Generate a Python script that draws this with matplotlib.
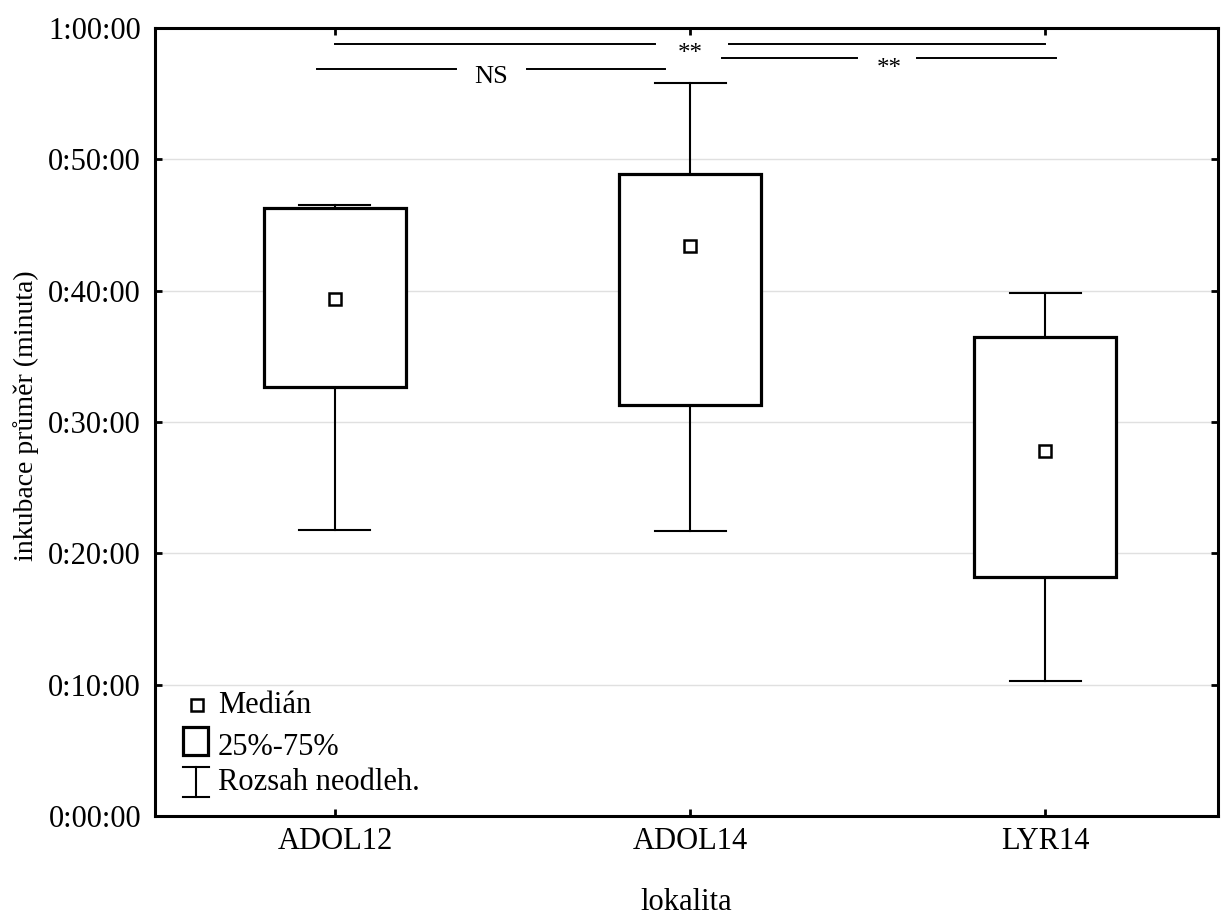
import matplotlib.pyplot as plt
from matplotlib.ticker import FuncFormatter, MultipleLocator
from matplotlib.patches import Rectangle

# Inkubace (minuty) podle lokality
lokality = ["ADOL12", "ADOL14", "LYR14"]
whisk_lo = [21.8, 21.7, 10.3]
q1 = [32.7, 31.3, 18.2]
median = [39.4, 43.4, 27.8]
q3 = [46.3, 48.9, 36.5]
whisk_hi = [46.5, 55.8, 39.8]

# Porovnani lokalit: (useky car), y cary, text, x textu, y textu, velikost
srovnani = [
    ((0.0, 0.90), (1.11, 2.0), 58.8, "**", 1.0, 57.6, 18),
    ((-0.05, 0.34), (0.54, 0.93), 56.9, "NS", 0.44, 55.8, 19),
    ((1.09, 1.47), (1.64, 2.03), 57.7, "**", 1.56, 56.4, 18),
]

plt.rcParams.update({'font.family': 'Liberation Serif', 'font.size': 22})
fig = plt.figure(figsize=(12.23, 9.18), dpi=100)
ax = fig.add_axes([0.1267, 0.1111, 0.8692, 0.8584])

sirka = 0.4
cap = 0.2
for i in range(len(lokality)):
    ax.plot([i, i], [whisk_lo[i], q1[i]], color="black", lw=1.5, zorder=3)
    ax.plot([i, i], [q3[i], whisk_hi[i]], color="black", lw=1.5, zorder=3)
    ax.plot([i - cap / 2, i + cap / 2], [whisk_lo[i]] * 2, color="black", lw=1.5, zorder=3)
    ax.plot([i - cap / 2, i + cap / 2], [whisk_hi[i]] * 2, color="black", lw=1.5, zorder=3)
    ax.add_patch(Rectangle((i - sirka / 2, q1[i]), sirka, q3[i] - q1[i],
                           facecolor="white", edgecolor="black", lw=2.3, zorder=4))
    ax.plot(i, median[i], marker="s", ms=8, mfc="white", mec="black", mew=1.8, zorder=5)

for (a, b), (c, d), y, txt, xt, yt, fs in srovnani:
    ax.plot([a, b], [y, y], color="black", lw=1.4)
    ax.plot([c, d], [y, y], color="black", lw=1.4)
    ax.text(xt, yt, txt, ha="center", va="baseline", fontsize=fs)

ax.set_xlim(-0.507, 2.487)
ax.set_ylim(0, 60)
ax.set_xticks(range(len(lokality)))
ax.set_xticklabels(lokality)
ax.yaxis.set_major_locator(MultipleLocator(10))
ax.yaxis.set_major_formatter(FuncFormatter(lambda v, p: "%d:%02d:00" % (int(v) // 60, int(v) % 60)))
ax.grid(axis="y", color="#e0e0e0", lw=1)
ax.set_axisbelow(True)
ax.tick_params(direction="in", length=5, width=2, top=True, right=True)
ax.tick_params(axis="x", pad=8)
ax.tick_params(axis="y", pad=10)
for s in ax.spines.values():
    s.set_linewidth(2.2)

ax.set_xlabel("lokalita", fontsize=22)
ax.xaxis.set_label_coords(0.5, -0.091)
ax.set_ylabel("inkubace průměr (minuta)", fontsize=20)
ax.yaxis.set_label_coords(-0.109, 0.508)

# vlastni legenda
t = ax.transAxes
ax.plot(0.0395, 0.1408, transform=t, marker="s", ms=8, mfc="white", mec="black", mew=1.8, clip_on=False)
ax.add_patch(Rectangle((0.0263, 0.0774), 0.0235, 0.0355, transform=t,
                       facecolor="white", edgecolor="black", lw=2.3))
ax.plot([0.0385, 0.0385], [0.0241, 0.0622], transform=t, color="black", lw=1.5)
ax.plot([0.0263, 0.0508], [0.0241, 0.0241], transform=t, color="black", lw=1.5)
ax.plot([0.0263, 0.0508], [0.0622, 0.0622], transform=t, color="black", lw=1.5)
ax.text(0.0593, 0.1307, "Medián", transform=t, va="baseline")
ax.text(0.0593, 0.0774, "25%-75%", transform=t, va="baseline")
ax.text(0.0593, 0.033, "Rozsah neodleh.", transform=t, va="baseline")

plt.savefig("out.png", dpi=100)
